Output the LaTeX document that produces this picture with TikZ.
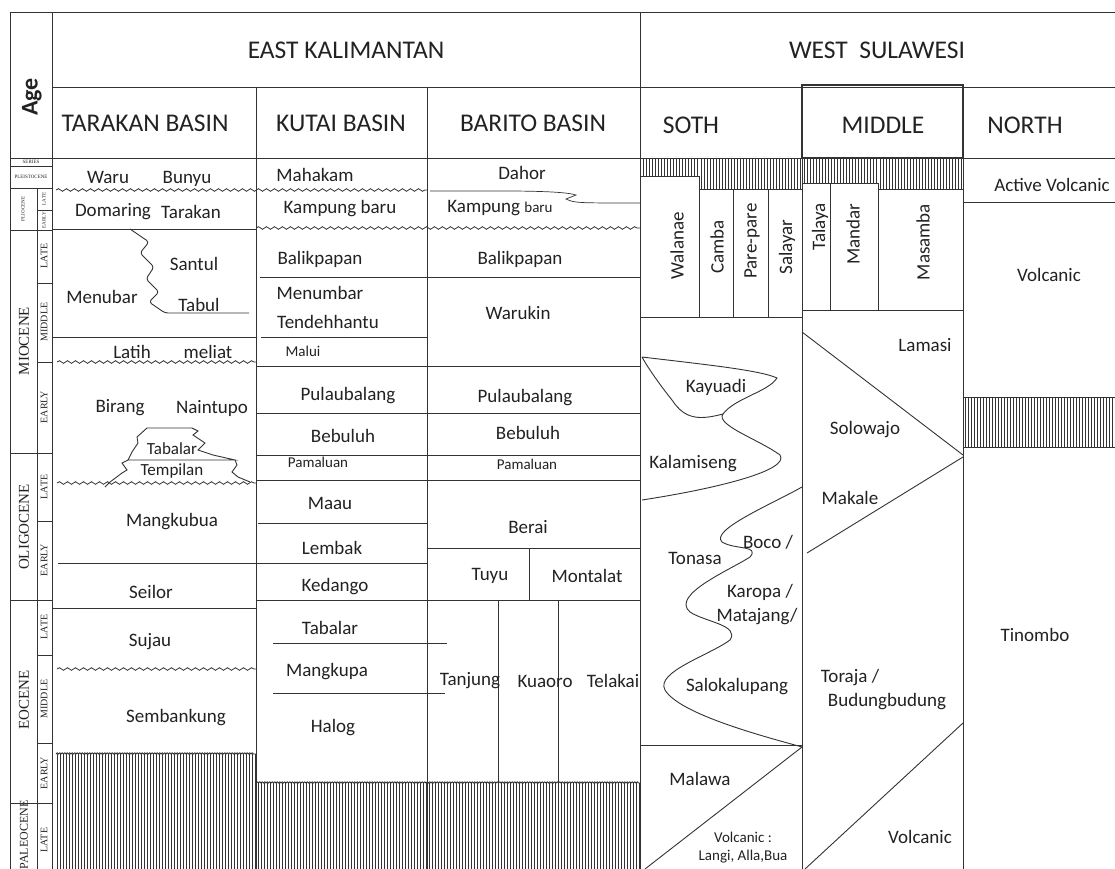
\documentclass[tikz,border=0pt]{standalone}
\usepackage{fontspec}
\setmainfont{Carlito}
\newfontfamily\agefont{Liberation Serif}
\usetikzlibrary{decorations.pathmorphing}
\definecolor{chartline}{HTML}{333333}
\definecolor{charttext}{HTML}{222222}

\begin{document}
\begin{tikzpicture}[x=1pt,y=-1pt,color=chartline,
  rule/.style={line width=0.9pt},
  wavy/.style={line width=0.8pt,decorate,decoration={snake,amplitude=1.3pt,segment length=8pt}},
  bumpy/.style={line width=0.8pt,decorate,decoration={bumps,amplitude=1.2pt,segment length=5pt}},
  hatchline/.style={line width=0.9pt},
  lbl/.style={text=charttext,font=\fontsize{19}{21}\selectfont,inner sep=0pt},
  sml/.style={lbl,font=\fontsize{15}{17}\selectfont},
  hdr/.style={lbl,font=\fontsize{25.5}{27}\selectfont},
  vlbl/.style={lbl,rotate=90},
  epoch/.style={text=charttext,font=\agefont\fontsize{15}{17}\selectfont,rotate=90,inner sep=0pt},
  stage/.style={epoch,font=\agefont\fontsize{10}{11}\selectfont},
  tinyage/.style={epoch,font=\agefont\fontsize{5}{6}\selectfont}]
  \fill[white] (0,0) rectangle (1115,869);
  \useasboundingbox (0,0) rectangle (1115,869);

  % hatched basement and volcanic bands
  \foreach \x in {57,60,...,255} \draw[hatchline] (\x,754) -- (\x,869);
  \foreach \x in {258,261,...,639} \draw[hatchline] (\x,783) -- (\x,869);
  \foreach \x in {643,646,...,698} \draw[hatchline] (\x,158) -- (\x,176);
  \foreach \x in {701,704,...,801} \draw[hatchline] (\x,158) -- (\x,189);
  \foreach \x in {804,807,...,877} \draw[hatchline] (\x,158) -- (\x,183);
  \foreach \x in {880,883,...,962} \draw[hatchline] (\x,158) -- (\x,189);
  \foreach \x in {965,968,...,1114} \draw[hatchline] (\x,397) -- (\x,447);

  % frame
  \draw[rule] (10,12) -- (1115,12);
  \draw[rule] (10,12) -- (10,869);
  \draw[rule] (52,12) -- (52,869);
  \draw[rule] (640,12) -- (640,869);
  \draw[rule] (52,87) -- (1115,87);
  \draw[rule] (10,158) -- (1115,158);
  \draw[rule] (256,87) -- (256,869);
  \draw[rule] (427,87) -- (427,869);
  \draw[rule] (802,87) -- (802,869);
  \draw[rule] (963,87) -- (963,869);
  \draw[line width=1.4pt] (802,85) rectangle (963,158);

  % age column
  \node[lbl,font=\bfseries\fontsize{24}{26}\selectfont,rotate=90] (age) at (32,97) {Age};
  \draw[rule] (10,166) -- (52,166);
  \draw[rule] (10,188) -- (52,188);
  \draw[rule] (10,230) -- (52,230);
  \draw[rule] (10,453) -- (52,453);
  \draw[rule] (10,600) -- (52,600);
  \draw[rule] (10,803) -- (52,803);
  \draw[rule] (37,188) -- (37,869);
  \foreach \y in {210,283,362,521,655,743} \draw[rule] (37,\y) -- (52,\y);
  \node[tinyage,rotate=-90] (series) at (31,162) {SERIES};
  \node[tinyage,rotate=-90] (pleisto) at (31,177) {PLEISTOCENE};
  \node[tinyage] (plio) at (23,209) {PLIOCENE};
  \node[tinyage] (plioL) at (44,199) {LATE};
  \node[tinyage] (plioE) at (44,220) {EARLY};
  \node[epoch] (mio) at (24,341) {MIOCENE};
  \node[stage] (mioL) at (44,256) {LATE};
  \node[stage] (mioM) at (44,322) {MIDDLE};
  \node[stage] (mioE) at (44,407) {EARLY};
  \node[epoch] (oligo) at (24,527) {OLIGOCENE};
  \node[stage] (oligoL) at (44,487) {LATE};
  \node[stage] (oligoE) at (44,560) {EARLY};
  \node[epoch] (eo) at (24,700) {EOCENE};
  \node[stage] (eoL) at (44,627) {LATE};
  \node[stage] (eoM) at (44,699) {MIDDLE};
  \node[stage] (eoE) at (44,773) {EARLY};
  \node[epoch,font=\agefont\fontsize{12}{14}\selectfont] (paleo) at (24,835) {PALEOCENE};
  \node[stage] (paleoL) at (44,840) {LATE};

  % headers
  \node[hdr] (eastkal) at (346,50) {EAST KALIMANTAN};
  \node[hdr] (westsul) at (877,50) {WEST\ \ SULAWESI};
  \node[hdr] (tarakanbasin) at (145,123) {TARAKAN BASIN};
  \node[hdr] (kutaibasin) at (341,123) {KUTAI BASIN};
  \node[hdr] (baritobasin) at (533,123) {BARITO BASIN};
  \node[hdr] (soth) at (691,125) {SOTH};
  \node[hdr] (middle) at (883,125) {MIDDLE};
  \node[hdr] (north) at (1025,125) {NORTH};

  % Tarakan basin
  \draw[wavy] (56,190) -- (427,190);
  \draw[rule] (52,229) -- (256,229);
  \draw[rule,rounded corners=3pt] (130,229) -- (149,242) -- (140,253) -- (154,267) -- (146,279) -- (159,292) -- (149,302) -- (165,313) -- (249,313);
  \draw[rule] (52,337) -- (256,337);
  \draw[wavy] (57,362) -- (256,362);
  \draw[rule] (128,460) -- (132,452) -- (138,443) -- (137,437) -- (147,428) -- (192,428) -- (198,431) -- (193,435) -- (205,443) -- (198,450) -- (213,455) -- (235,460) -- cycle;
  \draw[rule] (128,460) -- (122,463) -- (127,470) -- (122,473) -- (110,482) -- (105,487);
  \draw[rule] (235,460) -- (237,465) -- (232,472) -- (238,477) -- (250,482);
  \draw[wavy] (57,483) -- (256,483);
  \draw[rule] (58,563) -- (427,563);
  \draw[rule] (52,608) -- (256,608);
  \draw[wavy] (57,669) -- (256,669);
  \draw[bumpy] (56,754) -- (256,754);
  \node[lbl] (waru) at (108,177) {Waru};
  \node[lbl] (bunyu) at (187,179) {Bunyu};
  \node[lbl] (domaring) at (113,212) {Domaring};
  \node[lbl] (tarakan) at (191,212) {Tarakan};
  \node[lbl] (santul) at (194,264) {Santul};
  \node[lbl] (menubar) at (102,297) {Menubar};
  \node[lbl] (tabul) at (199,305) {Tabul};
  \node[lbl] (latih) at (132,352) {Latih};
  \node[lbl] (meliat) at (208,352) {meliat};
  \node[lbl] (birang) at (120,408) {Birang};
  \node[lbl] (naintupo) at (212,408) {Naintupo};
  \node[sml,font=\fontsize{17}{19}\selectfont] (tabalarT) at (172,449) {Tabalar};
  \node[sml,font=\fontsize{17}{19}\selectfont] (tempilan) at (172,471) {Tempilan};
  \node[lbl] (mangkubua) at (172,522) {Mangkubua};
  \node[lbl] (seilor) at (151,592) {Seilor};
  \node[lbl] (sujau) at (150,642) {Sujau};
  \node[lbl] (sembankung) at (176,718) {Sembankung};

  % Kutai and Barito basins
  \draw[wavy] (256,228) -- (640,228);
  \draw[rule] (260,277) -- (640,277);
  \draw[rule] (261,337) -- (427,337);
  \draw[rule] (256,366) -- (640,366);
  \draw[rule] (256,413) -- (640,413);
  \draw[rule] (256,455) -- (640,455);
  \draw[rule] (256,480) -- (640,480);
  \draw[rule] (258,523) -- (427,523);
  \draw[rule] (427,548) -- (640,548);
  \draw[rule] (529,548) -- (529,600);
  \draw[rule] (256,600) -- (640,600);
  \draw[rule] (273,643) -- (447,643);
  \draw[rule] (273,693) -- (445,693);
  \draw[rule] (498,600) -- (498,783);
  \draw[rule] (558,600) -- (558,783);
  \draw[bumpy] (256,783) -- (640,783);
  \draw[line width=0.7pt] (430,191) .. controls (500,191) and (560,190) .. (576,195) -- (566,199) .. controls (575,203) .. (640,203);
  \node[lbl] (mahakam) at (315,175) {Mahakam};
  \node[lbl] (kampungK) at (340,209) {Kampung baru};
  \node[lbl] (balikpapanK) at (320,259) {Balikpapan};
  \node[lbl] (menumbar) at (320,293) {Menumbar};
  \node[lbl] (tendehhantu) at (328,322) {Tendehhantu};
  \node[sml] (malui) at (303,351) {Malui};
  \node[lbl] (pulaubalangK) at (348,396) {Pulaubalang};
  \node[lbl] (bebuluhK) at (343,436) {Bebuluh};
  \node[sml] (pamaluanK) at (318,462) {Pamaluan};
  \node[lbl] (maau) at (330,503) {Maau};
  \node[lbl] (lembak) at (332,548) {Lembak};
  \node[lbl] (kedango) at (335,587) {Kedango};
  \node[lbl] (tabalarK) at (330,628) {Tabalar};
  \node[lbl] (mangkupa) at (327,672) {Mangkupa};
  \node[lbl] (halog) at (333,728) {Halog};
  \node[lbl] (dahor) at (522,173) {Dahor};
  \node[lbl] (kampungB) at (500,208) {Kampung {\fontsize{15}{17}\selectfont baru}};
  \node[lbl] (balikpapanB) at (520,259) {Balikpapan};
  \node[lbl] (warukin) at (518,313) {Warukin};
  \node[lbl] (pulaubalangB) at (525,398) {Pulaubalang};
  \node[lbl] (bebuluhB) at (528,433) {Bebuluh};
  \node[sml] (pamaluanB) at (527,464) {Pamaluan};
  \node[lbl] (berai) at (528,527) {Berai};
  \node[lbl] (tuyu) at (490,576) {Tuyu};
  \node[lbl] (montalat) at (587,576) {Montalat};
  \node[lbl] (tanjung) at (470,681) {Tanjung};
  \node[lbl] (kuaoro) at (545,681) {Kuaoro};
  \node[lbl] (telakai) at (613,681) {Telakai};

  % South Sulawesi
  \draw[rule] (640,176) -- (699,176) -- (699,189) -- (802,189);
  \draw[rule] (699,176) -- (699,317);
  \draw[rule] (733,189) -- (733,317);
  \draw[rule] (768,189) -- (768,317);
  \draw[rule] (640,317) -- (802,317);
  \draw[rule] (642,357) .. controls (700,364) and (760,370) .. (777,378) .. controls (768,392) and (735,398) .. (723,414) .. controls (700,420) and (685,420) .. (672,400) .. controls (660,385) and (648,368) .. (642,357);
  \draw[rule] (723,414) .. controls (715,425) and (760,440) .. (780,455) .. controls (790,470) and (720,488) .. (642,500);
  \draw[rule] (802,487) .. controls (770,505) and (710,530) .. (722,542) .. controls (735,550) and (760,545) .. (750,557) .. controls (730,570) and (670,595) .. (690,612) .. controls (705,622) and (740,625) .. (730,640) .. controls (710,655) and (655,672) .. (665,690) .. controls (680,715) and (770,738) .. (802,747);
  \draw[rule] (640,745) -- (802,745);
  \draw[rule] (802,747) -- (645,869);
  \node[vlbl] (walanae) at (677,246) {Walanae};
  \node[vlbl] (camba) at (717,247) {Camba};
  \node[vlbl] (parepare) at (752,241) {Pare-pare};
  \node[vlbl] (salayar) at (787,247) {Salayar};
  \node[lbl] (kayuadi) at (716,387) {Kayuadi};
  \node[lbl] (kalamiseng) at (693,464) {Kalamiseng};
  \node[lbl] (tonasa) at (695,558) {Tonasa};
  \node[lbl] (boco) at (768,542) {Boco /};
  \node[lbl] (karopa) at (760,592) {Karopa /};
  \node[lbl] (matajang) at (757,617) {Matajang/};
  \node[lbl] (salokalupang) at (737,687) {Salokalupang};
  \node[lbl] (malawa) at (700,779) {Malawa};
  \node[sml] (volcS) at (743,837) {Volcanic :};
  \node[sml] (langi) at (743,857) {Langi, Alla,Bua};

  % Middle Sulawesi
  \draw[rule] (802,183) -- (878,183) -- (878,189) -- (963,189);
  \draw[rule] (830,183) -- (830,310);
  \draw[rule] (878,189) -- (878,310);
  \draw[rule] (802,310) -- (963,310);
  \draw[rule] (802,332) -- (963,455);
  \draw[rule] (963,457) -- (807,553);
  \draw[rule] (963,723) -- (805,869);
  \node[vlbl] (talaya) at (820,227) {Talaya};
  \node[vlbl] (mandar) at (853,234) {Mandar};
  \node[vlbl] (masamba) at (923,242) {Masamba};
  \node[lbl] (lamasi) at (925,345) {Lamasi};
  \node[lbl] (solowajo) at (865,430) {Solowajo};
  \node[lbl] (makale) at (850,498) {Makale};
  \node[lbl] (toraja) at (850,678) {Toraja /};
  \node[lbl] (budung) at (887,702) {Budungbudung};
  \node[lbl] (volcM) at (920,837) {Volcanic};

  % North Sulawesi
  \draw[rule] (963,202) -- (1115,202);
  \draw[rule] (963,397) -- (1115,397);
  \draw[rule] (963,447) -- (1115,447);
  \node[lbl] (activevolc) at (1052,185) {Active Volcanic};
  \node[lbl] (volcN) at (1049,275) {Volcanic};
  \node[lbl] (tinombo) at (1035,635) {Tinombo};
\end{tikzpicture}
\end{document}
